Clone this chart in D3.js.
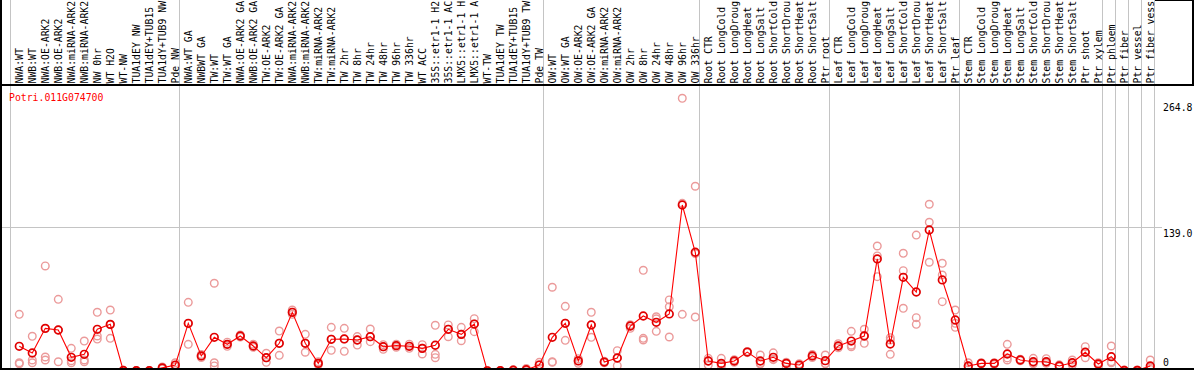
<!DOCTYPE html>
<html>
<head>
<meta charset="utf-8">
<script src="https://cdn.jsdelivr.net/npm/d3@7"></script>
<style>
    html, body { margin: 0; padding: 0; background: #fff; }
    svg { display: block; }
    text { font-family: "DejaVu Sans Mono", monospace; font-size: 9.8px; }
</style>
</head>
<body>
<svg id="chart" width="1194" height="370"></svg>
<script>
var geneId = 'Potri.011G074700';

var categories = [
    'NWA:WT', 'NWB:WT', 'NWA:OE-ARK2', 'NWB:OE-ARK2', 'NWA:miRNA-ARK2', 'NWB:miRNA-ARK2', 'NW 0hr', 'WT H2O',
    'WT-NW', 'TUA1dEY NW', 'TUA1dEY+TUB15 NW', 'TUA1dY+TUB9 NW', 'Pde NW',
    'NWA:WT GA', 'NWBWT GA', 'TW:WT', 'TW:WT GA', 'NWA:OE-ARK2 GA', 'NWB:OE-ARK2 GA', 'TW:OE-ARK2', 'TW:OE-ARK2 GA',
    'NWA:miRNA-ARK2', 'NWB:miRNA-ARK2', 'TW:miRNA-ARK2', 'TW:miRNA-ARK2', 'TW 2hr', 'TW 8hr', 'TW 24hr', 'TW 48hr',
    'TW 96hr', 'TW 336hr', 'WT ACC', '35S::etr1-1 H2O', '35S::etr1-1 ACC', 'LMX5::etr1-1 H2O', 'LMX5::etr1-1 ACC',
    'WT-TW', 'TUA1dEY TW', 'TUA1dEY+TUB15 TW', 'TUA1dY+TUB9 TW', 'Pde TW',
    'OW:WT', 'OW:WT GA', 'OW:OE-ARK2', 'OW:OE-ARK2 GA', 'OW:miRNA-ARK2', 'OW:miRNA-ARK2', 'OW 2hr', 'OW 8hr',
    'OW 24hr', 'OW 48hr', 'OW 96hr', 'OW 336hr',
    'Root CTR', 'Root LongCold', 'Root LongDrought', 'Root LongHeat', 'Root LongSalt', 'Root ShortCold',
    'Root ShortDrought', 'Root ShortHeat', 'Root ShortSalt', 'Ptr root',
    'Leaf CTR', 'Leaf LongCold', 'Leaf LongDrought', 'Leaf LongHeat', 'Leaf LongSalt', 'Leaf ShortCold',
    'Leaf ShortDrought', 'Leaf ShortHeat', 'Leaf ShortSalt', 'Ptr leaf',
    'Stem CTR', 'Stem LongCold', 'Stem LongDrought', 'Stem LongHeat', 'Stem LongSalt', 'Stem ShortCold',
    'Stem ShortDrought', 'Stem ShortHeat', 'Stem ShortSalt', 'Ptr shoot', 'Ptr xylem',
    'Ptr phloem', 'Ptr fiber', 'Ptr vessel', 'Ptr fiber vessel'
];

// index where each sample group starts (last one closes the plot)
var groupStarts = [0, 13, 41, 53, 63, 73, 84, 85, 86, 87, 88];

var means = [
    24.0, 17.5, 41.4, 39.8, 13.3, 16.2, 40.5, 45.3, 0.5, 0.3, 0.3, 3.0, 5.8,
    46.3, 14.6, 32.7, 25.9, 34.0, 24.3, 12.9, 26.9, 57.0, 26.9, 7.4, 30.8, 31.1, 30.1, 33.3, 23.6,
    24.6, 24.0, 22.0, 25.0, 40.5, 35.6, 45.6, 0.2, 0.3, 0.8, 1.2, 5.8,
    32.7, 46.3, 9.8, 44.7, 8.7, 12.6, 43.7, 53.4, 47.3, 55.4, 161.2, 115.3,
    9.7, 7.4, 9.7, 18.4, 9.7, 13.3, 7.4, 5.8, 14.6, 10.0,
    24.3, 29.1, 34.0, 108.8, 26.2, 91.0, 76.7, 136.9, 88.4, 49.5,
    4.9, 7.4, 7.4, 16.5, 10.7, 9.0, 9.0, 4.9, 8.0, 18.2, 6.8,
    13.9, 0.5, 0.6, 4.9
];

var rep1 = [
    55, 33.7, 102, 69.6, 22, 29.1, 57, 59.2, 0.8, 0.5, 0.5, 4, 8,
    66.7, 16, 85.2, 28, 35, 26, 17.2, 38.8, 59.2, 35.6, 9, 42.4, 41.4, 33.4, 40.8, 25.6,
    26, 26, 25.6, 44.4, 44.7, 42.4, 50.8, 0.4, 0.5, 1.2, 2.5, 8.4,
    81.3, 62.8, 12, 57, 9.5, 19.7, 45, 97.8, 52.7, 69, 264.8, 179.4,
    12.3, 12.3, 11, 19, 15.5, 17.6, 8.5, 7, 16, 15.5,
    26.5, 38.5, 40.5, 121.4, 32.4, 114.3, 132, 161.9, 104.6, 59.2,
    8, 8, 8, 25.9, 11.5, 12.3, 12, 6, 10.7, 23.6, 8,
    24.3, 1, 1, 10.7
];
var rep2 = [
    8, 10.7, 13.6, 39.8, 10, 10.7, 34, 45, 0.3, 0.2, 0.2, 3, 5.5,
    46, 14.6, 8, 25.9, 34, 24.3, 12.9, 27, 57, 26.9, 7.4, 30.8, 31.1, 30.1, 33.3, 23.6,
    25, 24, 22, 16.2, 40.5, 35.6, 45.6, 0.2, 0.3, 0.8, 1, 6,
    9, 46.3, 10, 44.7, 8.7, 12.6, 43.7, 31.7, 50.7, 62.4, 162.8, 114,
    9.7, 5.8, 10, 18.4, 7.5, 11.5, 7.4, 5.8, 14.6, 7.4,
    24.3, 25, 34.5, 111.7, 30, 97.4, 51.8, 144.4, 93.2, 46.3,
    4.9, 7.4, 7.4, 12.7, 10.7, 8, 8.5, 4.9, 7.5, 18.2, 6.8,
    9, 0.5, 0.6, 3
];
var rep3 = [
    7, 8, 10.7, 9, 8, 9, 31, 31.7, 0, 0, 0.1, 2, 4,
    25.9, 13, 4.9, 24, 33, 23, 8.4, 15.2, 55, 18.2, 6, 20.1, 19.1, 25.2, 28.5, 21,
    23, 22, 16.5, 12.9, 33.3, 29.4, 38.2, 0, 0, 0.4, 0.3, 3,
    8.4, 29.8, 7.5, 32.7, 8, 5.2, 41.4, 30.1, 38.5, 33, 55, 52.4,
    5.8, 4.5, 8.5, 17.8, 6.8, 11, 4, 4.5, 13, 7,
    22.5, 23.6, 26.9, 91.6, 16.2, 60.9, 45.3, 105.6, 67.3, 42.4,
    3.5, 7, 6.5, 10.7, 10, 7, 7.5, 4, 5.8, 12.9, 6,
    8, 0.2, 0.2, 1.5
];

var yTicks = [0, 139.0, 264.8];

(function () {
    var width = 1194, height = 370;
    var labelBottom = 85, plotBottom = 369, plotRight = 1155;
    var maxChars = 14; // the label strip only has room for this many
    var svg = d3.select('#chart');

    var xIdx = d3.scaleLinear().domain([0, categories.length]).range([10.7, 10.7 + 13 * categories.length]);
    var px = function (i) { return xIdx(i + 0.66); };
    var y = d3.scaleLinear().domain([0, 264.8]).range([371, 98.3]);
    var crisp = function (v) { return Math.round(v) + 0.5; };

    svg.append('rect').attr('width', width).attr('height', height).attr('fill', '#fff');

    // horizontal grid at the middle tick
    svg.append('line')
        .attr('x1', 1).attr('x2', 1162)
        .attr('y1', crisp(y(yTicks[1])) - 1).attr('y2', crisp(y(yTicks[1])) - 1)
        .attr('stroke', '#c4c4c4');

    // group separators run through the label strip too
    svg.append('g').selectAll('line').data(groupStarts).enter().append('line')
        .attr('x1', function (d) { return crisp(xIdx(d)) - 1; })
        .attr('x2', function (d) { return crisp(xIdx(d)) - 1; })
        .attr('y1', 0).attr('y2', plotBottom)
        .attr('stroke', '#c4c4c4');

    // sample labels, rotated
    svg.append('g').selectAll('text').data(categories).enter().append('text')
        .attr('transform', function (d, i) {
            return 'translate(' + (px(i) + 3.5) + ',' + (labelBottom - 1.5) + ') rotate(-90)';
        })
        .attr('fill', '#000')
        .text(function (d) { return d.slice(0, maxChars); });

    // replicate points
    var reps = [rep1, rep2, rep3];
    var repG = svg.append('g');
    reps.forEach(function (arr) {
        repG.selectAll(null).data(arr).enter().append('circle')
            .attr('cx', function (d, i) { return px(i); })
            .attr('cy', function (d) { return y(d); })
            .attr('r', 3.8)
            .attr('fill', 'none')
            .attr('stroke', '#eb9a9a')
            .attr('stroke-width', 1.4);
    });

    // mean line and points
    var line = d3.line()
        .x(function (d, i) { return px(i); })
        .y(function (d) { return y(d); });
    svg.append('path').datum(means)
        .attr('d', line)
        .attr('fill', 'none')
        .attr('stroke', '#f00')
        .attr('stroke-width', 1.1);
    svg.append('g').selectAll('circle').data(means).enter().append('circle')
        .attr('cx', function (d, i) { return px(i); })
        .attr('cy', function (d) { return y(d); })
        .attr('r', 3.8)
        .attr('fill', 'none')
        .attr('stroke', '#e00000')
        .attr('stroke-width', 1.7);

    // frame
    var frame = svg.append('g').attr('stroke', '#000').attr('stroke-width', 2);
    frame.append('line').attr('x1', 1).attr('x2', 1).attr('y1', 0).attr('y2', height);
    frame.append('line').attr('x1', 0).attr('x2', width).attr('y1', labelBottom).attr('y2', labelBottom);
    frame.append('line').attr('x1', 0).attr('x2', width).attr('y1', plotBottom).attr('y2', plotBottom);
    frame.append('line').attr('x1', plotRight).attr('x2', width).attr('y1', 0).attr('y2', 0);
    frame.append('line').attr('x1', width - 1).attr('x2', width - 1).attr('y1', 0).attr('y2', labelBottom);

    // y tick labels on the right; top one sits a little lower, zero above the axis
    var tickDy = function (d) {
        if (d === 0) { return -5; }
        return d === d3.max(yTicks) ? 13 : 9;
    };
    svg.append('g').selectAll('text').data(yTicks).enter().append('text')
        .attr('x', 1163)
        .attr('y', function (d) { return y(d) + tickDy(d); })
        .attr('fill', '#000')
        .text(function (d) { return d === 0 ? '0' : d.toFixed(1); });

    svg.append('text')
        .attr('x', 9).attr('y', 101)
        .attr('fill', '#f00')
        .text(geneId);
})();
</script>
</body>
</html>
